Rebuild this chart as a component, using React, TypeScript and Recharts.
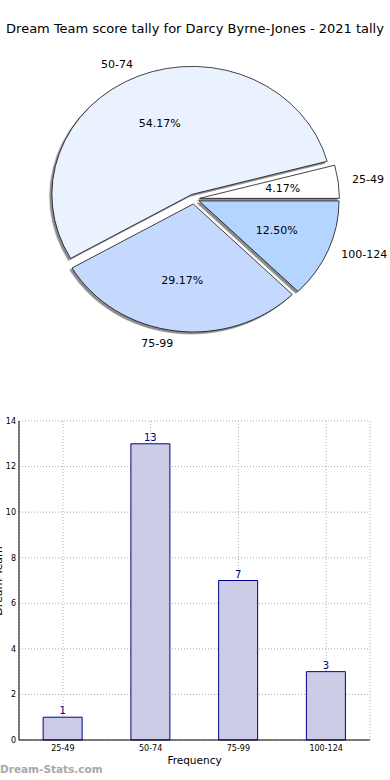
import React from "react";
import {
  PieChart,
  Pie,
  Cell,
  BarChart,
  Bar,
  XAxis,
  YAxis,
  CartesianGrid,
  LabelList,
} from "recharts";

const categories = ["25-49", "50-74", "75-99", "100-124"];
const counts = [1, 13, 7, 3];
const sliceColors = ["#ffffff", "#eaf2ff", "#c5d9ff", "#b3d5ff"];
const yTicks = [0, 2, 4, 6, 8, 10, 12, 14];

const FONT = "'DejaVu Sans', Verdana, sans-serif";
const NAVY = "#00008b";

// pie geometry (matplotlib-like: ellipse, every wedge exploded a bit)
const PIE_CX = 194;
const PIE_CY = 199;
const RADIUS = 128;
const STRETCH = 140 / 128;
const EXPLODE = 5;
const RADIAN = Math.PI / 180;

const total = counts.reduce((a, b) => a + b, 0);
const pieData = categories.map((name, i) => ({ name, value: counts[i] }));
const barData = categories.map((name, i) => ({ name, value: counts[i] }));

const midAngles = counts.map((v, i) => {
  const before = counts.slice(0, i).reduce((a, b) => a + b, 0);
  return ((before + v / 2) / total) * 360;
});

const makeLabel = (slice: number) => (props: any) => {
  if (props.index !== slice) return null;
  const mid = (props.midAngle ?? 0) * RADIAN;
  const cos = Math.cos(mid);
  const sin = Math.sin(mid);
  const r = props.outerRadius;
  const ox = props.cx - PIE_CX;
  const oy = props.cy - PIE_CY;

  const lx = PIE_CX + STRETCH * (ox + 1.1 * r * cos);
  const ly = PIE_CY + oy - 1.1 * r * sin;
  const px = PIE_CX + STRETCH * (ox + 0.6 * r * cos);
  const py = PIE_CY + oy - 0.6 * r * sin;

  return (
    <g>
      <text
        x={lx}
        y={ly}
        fill="#000"
        fontSize={11}
        fontFamily={FONT}
        textAnchor={cos >= 0 ? "start" : "end"}
        dominantBaseline="central"
      >
        {props.name}
      </text>
      <text
        x={px}
        y={py}
        fill="#000"
        fontSize={11}
        fontFamily={FONT}
        textAnchor="middle"
        dominantBaseline="central"
      >
        {`${((props.percent ?? 0) * 100).toFixed(2)}%`}
      </text>
    </g>
  );
};

export default function App() {
  return (
    <div
      style={{
        position: "absolute",
        left: 0,
        top: 0,
        width: 390,
        height: 780,
        background: "#fff",
        fontFamily: FONT,
        overflow: "hidden",
      }}
    >
      <style>{`
        .pieWrap .recharts-sector {
          transform-origin: ${PIE_CX}px ${PIE_CY}px;
          transform: scaleX(${STRETCH});
          filter: drop-shadow(-2px 2px 0 rgba(0,0,0,0.45));
        }
      `}</style>

      <div
        style={{
          position: "absolute",
          top: 21,
          left: 0,
          width: 390,
          textAlign: "center",
          fontSize: 13,
          color: "#000",
        }}
      >
        Dream Team score tally for Darcy Byrne-Jones - 2021 tally
      </div>

      <div className="pieWrap" style={{ position: "absolute", top: 0, left: 0 }}>
        <PieChart width={390} height={390} margin={{ top: 0, right: 0, bottom: 0, left: 0 }}>
          {pieData.map((_, slice) => (
            <Pie
              key={slice}
              data={pieData}
              dataKey="value"
              nameKey="name"
              cx={PIE_CX + EXPLODE * Math.cos(midAngles[slice] * RADIAN)}
              cy={PIE_CY - EXPLODE * Math.sin(midAngles[slice] * RADIAN)}
              outerRadius={RADIUS}
              startAngle={0}
              endAngle={360}
              labelLine={false}
              label={makeLabel(slice)}
              isAnimationActive={false}
            >
              {pieData.map((_, i) => (
                <Cell
                  key={i}
                  fill={i === slice ? sliceColors[i] : "none"}
                  stroke={i === slice ? "#000" : "none"}
                  strokeWidth={0.7}
                />
              ))}
            </Pie>
          ))}
        </PieChart>
      </div>

      <div style={{ position: "absolute", top: 400, left: 0 }}>
        <BarChart
          width={390}
          height={380}
          data={barData}
          margin={{ top: 21, right: 20, bottom: 0, left: 0 }}
          barCategoryGap="27.5%"
        >
          <CartesianGrid stroke="#aaaaaa" strokeDasharray="1 2" />
          <XAxis
            dataKey="name"
            height={40}
            interval={0}
            tickLine={false}
            tickSize={3}
            tickMargin={2}
            axisLine={{ stroke: "#000" }}
            tick={{ fontSize: 8, fill: "#000", fontFamily: FONT }}
            label={{
              value: "Frequency",
              position: "insideBottom",
              offset: 16,
              fontSize: 10.5,
              fill: "#000",
              fontFamily: FONT,
            }}
          />
          <XAxis
            xAxisId="top"
            dataKey="name"
            orientation="top"
            height={0}
            mirror
            tick={false}
            tickSize={4}
            axisLine={{ stroke: "#000" }}
            tickLine={{ stroke: "#000" }}
          />
          <YAxis
            domain={[0, 14]}
            ticks={yTicks}
            width={19}
            tickSize={2}
            tickMargin={1}
            tickLine={false}
            axisLine={{ stroke: "#000" }}
            tick={{ fontSize: 8, fill: "#000", fontFamily: FONT }}
          />
          <YAxis
            yAxisId="right"
            orientation="right"
            domain={[0, 14]}
            ticks={yTicks}
            width={0}
            mirror
            tick={false}
            tickSize={4}
            axisLine={{ stroke: "#000" }}
            tickLine={{ stroke: "#000" }}
          />
          <Bar
            dataKey="value"
            fill="#ccccE6"
            stroke={NAVY}
            strokeWidth={1}
            isAnimationActive={false}
          >
            <LabelList
              dataKey="value"
              position="top"
              offset={3}
              fill={NAVY}
              fontSize={10}
              fontFamily={FONT}
            />
          </Bar>
        </BarChart>
      </div>

      <svg
        width={390}
        height={780}
        style={{ position: "absolute", top: 0, left: 0, pointerEvents: "none" }}
      >
        <text
          transform="translate(2,581) rotate(-90)"
          textAnchor="middle"
          fontSize={11}
          fontFamily={FONT}
          fill="#000"
        >
          Dream Team
        </text>
      </svg>

      <div
        style={{
          position: "absolute",
          left: 0,
          top: 763,
          fontSize: 10.5,
          fontWeight: "bold",
          color: "#a8a8a8",
        }}
      >
        Dream-Stats.com
      </div>
    </div>
  );
}
